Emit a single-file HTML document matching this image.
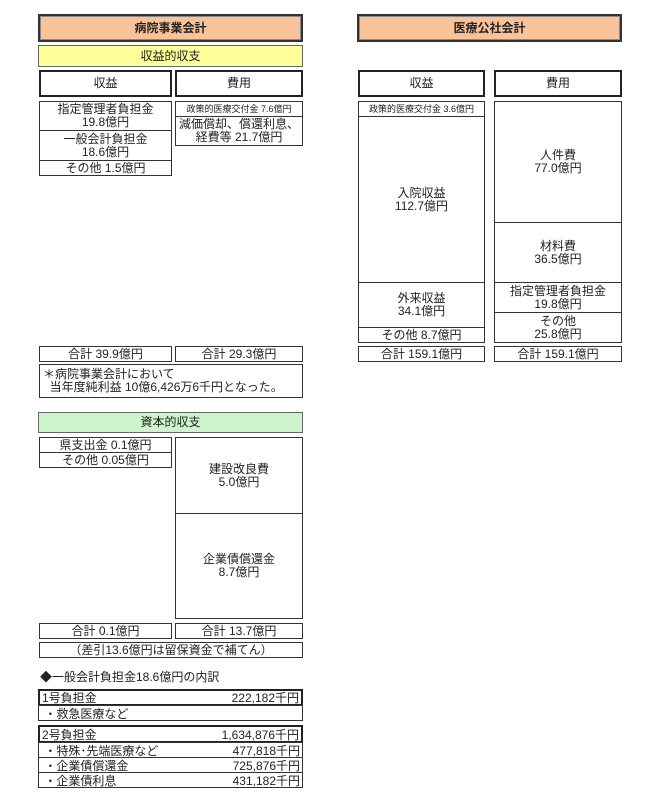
<!DOCTYPE html>
<html><head><meta charset="utf-8"><style>
body{margin:0;width:662px;height:800px;background:#fff;position:relative;font-family:"Liberation Sans","Noto Sans CJK JP",sans-serif;font-size:12px;color:#222;overflow:hidden}
.b{position:absolute;box-sizing:border-box;border:1px solid #333;display:flex;flex-direction:column;align-items:center;justify-content:center;text-align:center;line-height:13px;background:#fff;white-space:nowrap}
.t{border:2px solid #222}
.h{background:#f9c299;border:2px solid #333;box-shadow:inset 0 0 0 1px #888;font-weight:bold}
.s{font-size:9px}
.row{position:absolute;box-sizing:border-box;border:1px solid #333;display:flex;justify-content:space-between;align-items:center;padding:0 2px;font-size:12px}
</style></head><body>
<div class="b h" style="left:38px;top:14px;width:265px;height:28px">病院事業会計</div>
<div class="b" style="left:38px;top:45px;width:265px;height:22px;background:#ffff99;border-color:#666">収益的収支</div>
<div class="b t" style="left:39px;top:70px;width:133px;height:27px">収益</div>
<div class="b t" style="left:175px;top:70px;width:128px;height:27px">費用</div>
<div class="b" style="left:39px;top:101px;width:133px;height:30px">指定管理者負担金<br>19.8億円</div>
<div class="b" style="left:39px;top:130px;width:133px;height:31px">一般会計負担金<br>18.6億円</div>
<div class="b" style="left:39px;top:160px;width:133px;height:16px">その他 1.5億円</div>
<div class="b s" style="left:175px;top:101px;width:128px;height:16px">政策的医療交付金 7.6億円</div>
<div class="b" style="left:175px;top:116px;width:128px;height:30px">減価償却、償還利息、<br>経費等 21.7億円</div>
<div class="b" style="left:39px;top:346px;width:133px;height:16px">合計 39.9億円</div>
<div class="b" style="left:175px;top:346px;width:128px;height:16px">合計 29.3億円</div>
<div class="b" style="left:39px;top:364px;width:264px;height:34px;align-items:flex-start;text-align:left;padding-left:3px">＊病院事業会計において<br>&nbsp;&nbsp;当年度純利益 10億6,426万6千円となった。</div>
<div class="b" style="left:38px;top:412px;width:265px;height:21px;background:#ccf5cc;border-color:#666">資本的収支</div>
<div class="b" style="left:39px;top:437px;width:133px;height:16px">県支出金 0.1億円</div>
<div class="b" style="left:39px;top:452px;width:133px;height:16px">その他 0.05億円</div>
<div class="b" style="left:175px;top:437px;width:128px;height:77px">建設改良費<br>5.0億円</div>
<div class="b" style="left:175px;top:513px;width:128px;height:106px">企業債償還金<br>8.7億円</div>
<div class="b" style="left:39px;top:623px;width:133px;height:16px">合計 0.1億円</div>
<div class="b" style="left:175px;top:623px;width:128px;height:16px">合計 13.7億円</div>
<div class="b" style="left:39px;top:642px;width:264px;height:16px">（差引13.6億円は留保資金で補てん）</div>
<div style="position:absolute;left:40px;top:668px;font-size:12px">◆一般会計負担金18.6億円の内訳</div>
<div class="row" style="left:38px;top:689px;width:265px;height:17px;border:2px solid #222"><span>1号負担金</span><span>222,182千円</span></div>
<div class="row" style="left:38px;top:705px;width:265px;height:16px"><span>&nbsp;・救急医療など</span><span></span></div>
<div class="row" style="left:38px;top:725px;width:265px;height:18px;border:2px solid #222"><span>2号負担金</span><span>1,634,876千円</span></div>
<div class="row" style="left:38px;top:742px;width:265px;height:16px"><span>&nbsp;・特殊･先端医療など</span><span>477,818千円</span></div>
<div class="row" style="left:38px;top:757px;width:265px;height:16px"><span>&nbsp;・企業債償還金</span><span>725,876千円</span></div>
<div class="row" style="left:38px;top:772px;width:265px;height:16px"><span>&nbsp;・企業債利息</span><span>431,182千円</span></div>

<div class="b h" style="left:357px;top:14px;width:265px;height:28px">医療公社会計</div>
<div class="b t" style="left:358px;top:70px;width:127px;height:27px">収益</div>
<div class="b t" style="left:494px;top:70px;width:128px;height:27px">費用</div>
<div class="b s" style="left:358px;top:101px;width:127px;height:16px">政策的医療交付金 3.6億円</div>
<div class="b" style="left:358px;top:116px;width:127px;height:167px">入院収益<br>112.7億円</div>
<div class="b" style="left:358px;top:282px;width:127px;height:46px">外来収益<br>34.1億円</div>
<div class="b" style="left:358px;top:327px;width:127px;height:16px">その他 8.7億円</div>
<div class="b" style="left:494px;top:101px;width:128px;height:122px">人件費<br>77.0億円</div>
<div class="b" style="left:494px;top:222px;width:128px;height:61px">材料費<br>36.5億円</div>
<div class="b" style="left:494px;top:282px;width:128px;height:31px">指定管理者負担金<br>19.8億円</div>
<div class="b" style="left:494px;top:312px;width:128px;height:31px">その他<br>25.8億円</div>
<div class="b" style="left:358px;top:346px;width:127px;height:16px">合計 159.1億円</div>
<div class="b" style="left:494px;top:346px;width:128px;height:16px">合計 159.1億円</div>
</body></html>
